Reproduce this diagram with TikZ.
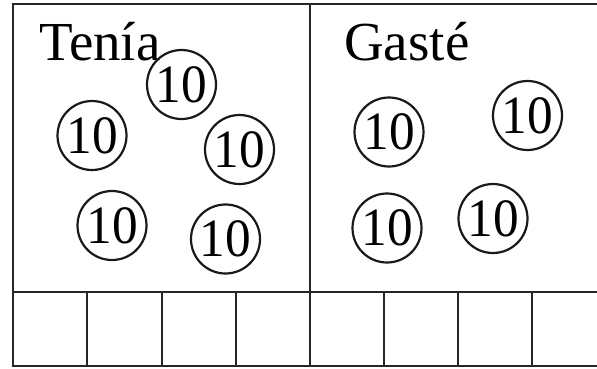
\documentclass[tikz,border=0pt]{standalone}
\usepackage{fontspec}
\setmainfont{Liberation Serif}
\usepackage{graphicx}
\tikzset{
  frame/.style={line width=2.8pt, draw=black!85},
  coin/.style={circle, draw=black!90, line width=2.2pt, minimum size=69pt, inner sep=0pt,
    font=\fontsize{54}{54}\selectfont},
  title/.style={anchor=base west, inner sep=0pt, font=\fontsize{55}{55}\selectfont}
}
\newcommand{\coinval}{\scalebox{0.95}[1]{10}}
\begin{document}
\begin{tikzpicture}[x=1pt, y=-1pt]
\useasboundingbox (0,0) rectangle (597,368);
% outer frame (open on the right)
\draw[frame] (597,4) -- (13,4) -- (13,366) -- (597,366);
\draw[frame] (13,292) -- (597,292);
\draw[line width=2.2pt, draw=black!85] (310,4) -- (310,292);
\foreach \x in {87,162,236,310,384,458,532}
  \draw[frame] (\x,292) -- (\x,366);
% titles
\node[title] (tenia) at (39,60) {Tenía};
\node[title] (gaste) at (344,60) {Gasté};
% coins left
\node[coin] (l1) at (181.5,84.5) {\coinval};
\node[coin] (l2) at (92,135.5) {\coinval};
\node[coin] (l3) at (239.5,149.5) {\coinval};
\node[coin] (l4) at (112,225.5) {\coinval};
\node[coin] (l5) at (225.5,239) {\coinval};
% coins right
\node[coin] (r1) at (389,132) {\coinval};
\node[coin] (r2) at (527.5,115.5) {\coinval};
\node[coin] (r3) at (387,228) {\coinval};
\node[coin] (r4) at (493,218.5) {\coinval};
\end{tikzpicture}
\end{document}
